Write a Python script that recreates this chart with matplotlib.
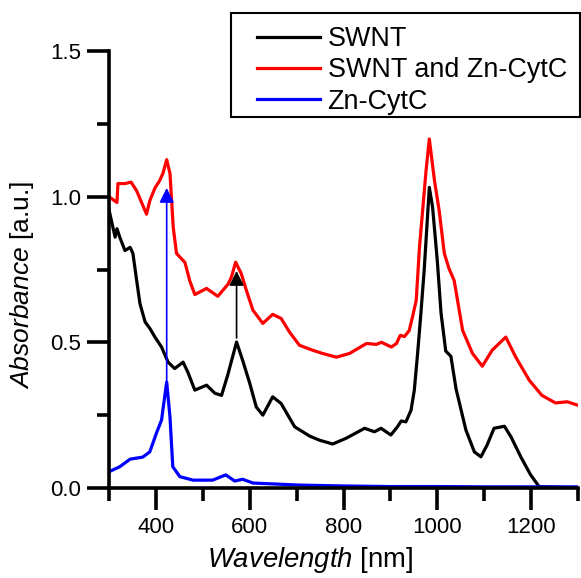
import matplotlib
matplotlib.use("Agg")
import matplotlib.pyplot as plt
from matplotlib.ticker import MultipleLocator, FormatStrFormatter
from matplotlib.patches import Rectangle

plt.rcParams['font.family'] = ['Liberation Sans', 'DejaVu Sans']
plt.rcParams['mathtext.fontset'] = 'custom'
plt.rcParams['mathtext.it'] = 'Liberation Sans:italic'
plt.rcParams['mathtext.rm'] = 'Liberation Sans'

# SWNT (black)
swnt_x = [300, 313, 317, 323, 334, 345, 351, 359, 366, 377, 387, 398, 412, 426, 440, 458, 468, 483,
          508, 526, 540, 553, 572, 585, 600, 614, 628, 649, 667, 685, 696, 728, 749, 777, 806, 845,
          866, 880, 901, 915, 923, 933, 944, 951, 958, 965, 972, 983, 990, 1000, 1008, 1018, 1029,
          1040, 1061, 1079, 1093, 1106, 1121, 1143, 1157, 1178, 1199, 1217, 1300]
swnt_y = [0.955, 0.861, 0.89, 0.861, 0.815, 0.826, 0.805, 0.712, 0.633, 0.57, 0.548, 0.518, 0.484,
          0.432, 0.41, 0.432, 0.398, 0.336, 0.353, 0.325, 0.318, 0.387, 0.501, 0.438, 0.36, 0.278,
          0.25, 0.313, 0.29, 0.24, 0.21, 0.178, 0.164, 0.151, 0.171, 0.205, 0.193, 0.205, 0.182,
          0.21, 0.23, 0.227, 0.267, 0.336, 0.462, 0.599, 0.747, 1.032, 0.963, 0.78, 0.60, 0.47,
          0.452, 0.34, 0.199, 0.124, 0.107, 0.147, 0.205, 0.212, 0.176, 0.107, 0.045, 0.005, 0.0]

# SWNT and Zn-CytC (red)
mix_x = [300, 317, 319, 334, 347, 359, 380, 387, 398, 408, 415, 423, 430, 437, 444, 462, 472, 483,
         508, 532, 554, 561, 570, 582, 593, 607, 628, 649, 667, 685, 706, 734, 755, 785, 813, 849,
         870, 881, 902, 913, 921, 930, 940, 947, 955, 962, 976, 983, 994, 1004, 1015, 1025, 1036,
         1054, 1075, 1096, 1117, 1146, 1167, 1196, 1223, 1252, 1277, 1300]
mix_y = [1.0, 0.98, 1.045, 1.045, 1.05, 1.02, 0.94, 0.986, 1.03, 1.055, 1.08, 1.127, 1.08, 0.894,
         0.805, 0.774, 0.712, 0.664, 0.685, 0.658, 0.70, 0.724, 0.775, 0.736, 0.678, 0.61, 0.565,
         0.596, 0.582, 0.535, 0.49, 0.473, 0.462, 0.449, 0.462, 0.496, 0.493, 0.50, 0.484, 0.496,
         0.524, 0.52, 0.54, 0.586, 0.644, 0.826, 1.089, 1.198, 1.055, 0.952, 0.805, 0.753, 0.712,
         0.541, 0.462, 0.418, 0.473, 0.518, 0.45, 0.37, 0.318, 0.292, 0.296, 0.284]

# Zn-CytC (blue)
cyt_x = [300, 323, 345, 372, 387, 401, 412, 423, 430, 436, 451, 479, 521, 549, 568, 585, 607, 706,
         800, 900, 1000, 1100, 1200, 1300]
cyt_y = [0.056, 0.073, 0.099, 0.106, 0.124, 0.188, 0.233, 0.364, 0.244, 0.073, 0.039, 0.027, 0.027,
         0.045, 0.024, 0.03, 0.017, 0.01, 0.007, 0.005, 0.005, 0.004, 0.004, 0.004]

# Arrows: (x, y_start, y_end)
arrow_blue = (423, 0.37, 1.03)
arrow_black = (572, 0.515, 0.745)

legend_labels = ["SWNT", "SWNT and Zn-CytC", "Zn-CytC"]
x_major = [400, 600, 800, 1000, 1200]
y_major = [0.0, 0.5, 1.0, 1.5]

W, H = 581, 578
fig = plt.figure(figsize=(W / 100, H / 100), dpi=100)
ax = fig.add_axes([109 / W, 1 - 488 / H, (578 - 109) / W, (488 - 51) / H])

lw = 2.3
l1, = ax.plot(swnt_x, swnt_y, color='black', lw=lw, label=legend_labels[0])
l2, = ax.plot(mix_x, mix_y, color='#ff0000', lw=lw, label=legend_labels[1])
l3, = ax.plot(cyt_x, cyt_y, color='#0000ff', lw=lw, label=legend_labels[2])

ax.annotate('', xy=(arrow_blue[0], arrow_blue[2]), xytext=(arrow_blue[0], arrow_blue[1]),
            arrowprops=dict(arrowstyle='-|>', color='#0000ff', lw=1.2, mutation_scale=22,
                            shrinkA=0, shrinkB=0))
ax.annotate('', xy=(arrow_black[0], arrow_black[2]), xytext=(arrow_black[0], arrow_black[1]),
            arrowprops=dict(arrowstyle='-|>', color='black', lw=1.2, mutation_scale=22,
                            shrinkA=0, shrinkB=0))

ax.set_xlim(300, 1300)
ax.set_ylim(0, 1.5)
ax.set_xticks(x_major)
ax.set_yticks(y_major)
ax.xaxis.set_minor_locator(MultipleLocator(100))
ax.yaxis.set_minor_locator(MultipleLocator(0.25))
ax.yaxis.set_major_formatter(FormatStrFormatter('%.1f'))

for s in ['top', 'right']:
    ax.spines[s].set_visible(False)
for s in ['left', 'bottom']:
    ax.spines[s].set_linewidth(2.6)

ax.tick_params(which='major', direction='out', length=16, width=2.6, labelsize=16, pad=4)
ax.tick_params(which='minor', direction='out', length=9, width=2.6)
ax.tick_params(axis='x', which='major', pad=5)

ax.set_xlabel(r'$\mathit{Wavelength}$ [nm]', fontsize=19.8)
ax.set_ylabel(r'$\mathit{Absorbance}$ [a.u.]', fontsize=19)
ax.xaxis.set_label_coords(0.43, -0.13)
ax.yaxis.set_label_coords(-0.155, 0.465)

leg = ax.legend(handles=[l1, l2, l3], loc='upper left',
                bbox_to_anchor=(257 / W, 1 - 26 / H), bbox_transform=fig.transFigure,
                borderaxespad=0, borderpad=0, fontsize=19.4, frameon=False,
                handlelength=2.35, handletextpad=0.27, labelspacing=0.2)
for h in leg.get_lines():
    h.set_linewidth(2.3)

fig.patches.append(Rectangle((231 / W, 1 - 117 / H), (580 - 231) / W, (117 - 13) / H,
                             transform=fig.transFigure, fill=False, edgecolor='black',
                             linewidth=1.5, figure=fig))

fig.savefig('out.png', dpi=100)
